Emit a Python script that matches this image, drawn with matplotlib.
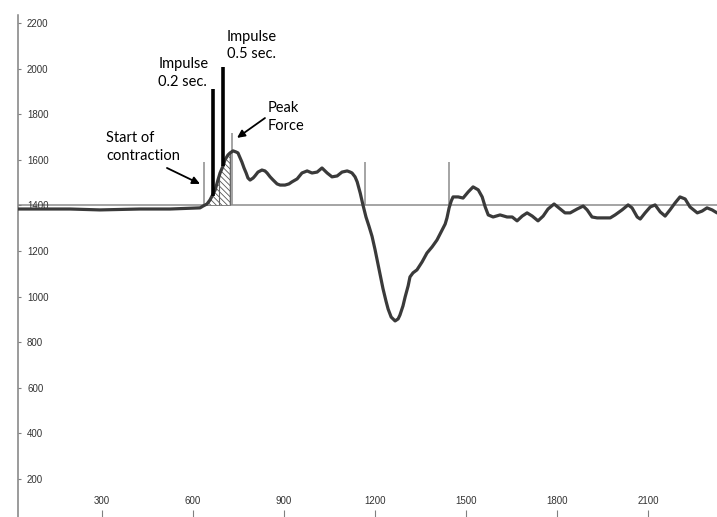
import numpy as np
import matplotlib
matplotlib.use("Agg")
import matplotlib.pyplot as plt

# Force trace (time in ms, force in N)
time_ms = [23, 195, 293, 425, 524, 623, 633, 646, 656, 666, 673, 682, 689, 699, 705,
           715, 722, 732, 742, 748, 755, 761, 768, 775, 781, 788, 798, 804, 814, 827,
           837, 844, 854, 864, 877, 887, 903, 916, 926, 943, 959, 976, 992, 1009, 1025,
           1042, 1058, 1075, 1091, 1108, 1118, 1124, 1134, 1141, 1151, 1160, 1170, 1180,
           1190, 1200, 1210, 1220, 1226, 1236, 1243, 1253, 1266, 1276, 1282, 1292, 1299,
           1309, 1315, 1325, 1338, 1355, 1371, 1388, 1404, 1421, 1431, 1437, 1444, 1451,
           1457, 1474, 1490, 1507, 1523, 1540, 1553, 1563, 1573, 1589, 1612, 1635, 1652,
           1668, 1685, 1701, 1718, 1737, 1754, 1770, 1790, 1810, 1826, 1843, 1866, 1886,
           1899, 1915, 1932, 1952, 1975, 1991, 2014, 2034, 2047, 2064, 2074, 2090, 2107,
           2123, 2140, 2156, 2172, 2189, 2205, 2222, 2238, 2262, 2278, 2294, 2311, 2327]
force_n = [1384, 1384, 1380, 1384, 1384, 1389, 1397, 1406, 1424, 1450, 1468, 1511, 1542,
           1573, 1599, 1621, 1630, 1639, 1634, 1630, 1608, 1590, 1564, 1542, 1520, 1511,
           1520, 1529, 1546, 1555, 1551, 1542, 1525, 1511, 1494, 1489, 1489, 1494, 1503,
           1516, 1542, 1551, 1542, 1546, 1564, 1542, 1525, 1529, 1546, 1551, 1546, 1542,
           1525, 1503, 1454, 1402, 1349, 1308, 1264, 1205, 1140, 1077, 1035, 980, 945,
           910, 893, 902, 919, 959, 998, 1047, 1086, 1104, 1117, 1152, 1191, 1218, 1248,
           1292, 1318, 1345, 1389, 1419, 1437, 1437, 1432, 1459, 1481, 1468, 1437, 1393,
           1358, 1349, 1358, 1349, 1349, 1332, 1353, 1367, 1353, 1332, 1353, 1384, 1406,
           1384, 1367, 1367, 1384, 1397, 1380, 1349, 1345, 1345, 1345, 1358, 1380, 1402,
           1389, 1349, 1340, 1367, 1393, 1402, 1371, 1353, 1380, 1411, 1437, 1428, 1393,
           1367, 1375, 1389, 1380, 1367]

baseline_force = 1400
start_time = 636          # start of contraction
impulse_split = 686       # boundary between the 0.2 s and 0.5 s impulse areas
impulse_end = 722

# Event marker lines (time, top force)
event_times = [636, 729, 1167, 1444]
event_tops = [1590, 1718, 1590, 1590]

# Impulse indicator bars (time, bottom force, top force)
impulse_bar_times = [666, 700]
impulse_bar_bottoms = [1441, 1573]
impulse_bar_tops = [1911, 2007]

x_ticks = [300, 600, 900, 1200, 1500, 1800, 2100]
y_ticks = [200, 400, 600, 800, 1000, 1200, 1400, 1600, 1800, 2000, 2200]

t = np.array(time_ms, dtype=float)
f = np.array(force_n, dtype=float)

plt.rcParams["hatch.linewidth"] = 0.6

fig = plt.figure(figsize=(7.17, 5.17), dpi=100)
ax = fig.add_axes([18 / 717, 0.0, 1 - 18 / 717, 1 - 15 / 517])
ax.set_xlim(23, 2327)
ax.set_ylim(33, 2235)

# Reference level
ax.axhline(baseline_force, color="#8c8c8c", lw=1.1, zorder=1)

# Impulse area, hatched between trace and reference level
mask = (t >= start_time - 5) & (t <= impulse_end)
ax.fill_between(t, baseline_force, f, where=mask, facecolor="white",
                edgecolor="#555555", hatch="\\\\\\\\\\\\", linewidth=0.4, zorder=2)
ax.vlines(impulse_split, baseline_force, np.interp(impulse_split, t, f),
          color="#666666", lw=0.8, zorder=2)
ax.vlines(impulse_end, baseline_force, np.interp(impulse_end, t, f),
          color="#666666", lw=0.8, zorder=2)

# Event markers
for et, top in zip(event_times, event_tops):
    ax.vlines(et, baseline_force, top, color="#8c8c8c", lw=1.1, zorder=3)

# Force trace
ax.plot(t, f, color="#3a3a3a", lw=2.3, solid_joinstyle="round",
        solid_capstyle="round", zorder=4)

# Impulse bars
for bt, b0, b1 in zip(impulse_bar_times, impulse_bar_bottoms, impulse_bar_tops):
    ax.vlines(bt, b0, b1, color="black", lw=2.6, zorder=5)

# Annotations
txt = dict(fontsize=10.5, family=["Lato", "DejaVu Sans"], color="black",
           linespacing=1.3, va="center", ha="left")
ax.text(313, 1656, "Start of\ncontraction", **txt)
ax.text(485, 1980, "Impulse\n0.2 sec.", **txt)
ax.text(712, 2101, "Impulse\n0.5 sec.", **txt)
ax.text(847, 1788, "Peak\nForce", **txt)

arrow = dict(arrowstyle="-|>,head_length=0.45,head_width=0.22", color="black", lw=1.3,
             shrinkA=0, shrinkB=0)
ax.annotate("", xy=(623, 1494), xytext=(514, 1564), arrowprops=arrow)
ax.annotate("", xy=(745, 1696), xytext=(837, 1783), arrowprops=arrow)

# Axes styling
for side in ("top", "right", "bottom"):
    ax.spines[side].set_visible(False)
ax.spines["left"].set_color("#808080")
ax.spines["left"].set_linewidth(1.1)

ax.set_xticks(x_ticks)
ax.set_yticks(y_ticks)
ax.set_xticklabels([str(v) for v in x_ticks])
ax.set_yticklabels([str(v) for v in y_ticks])
ax.tick_params(axis="y", direction="in", length=2.5, width=0.8, color="#808080",
               pad=-6.5, labelsize=7, labelcolor="#333333")
ax.tick_params(axis="x", direction="in", length=5, width=0.8, color="#808080",
               pad=-8, labelsize=7, labelcolor="#333333")
for lbl in ax.get_yticklabels():
    lbl.set_horizontalalignment("left")
    lbl.set_family(["Liberation Sans"])
for lbl in ax.get_xticklabels():
    lbl.set_verticalalignment("bottom")
    lbl.set_family(["Liberation Sans"])

fig.savefig("out.png", dpi=100)
